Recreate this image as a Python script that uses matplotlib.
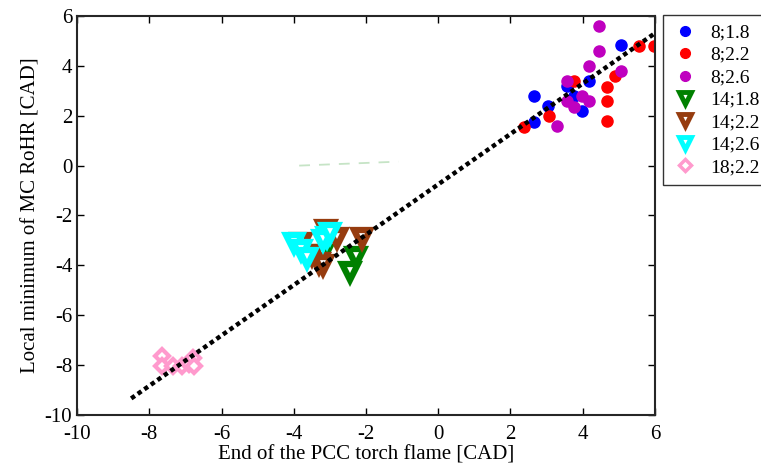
import numpy as np
import matplotlib
matplotlib.use("Agg")
import matplotlib.pyplot as plt

# --------------------------------------------
# Données : fin de flamme PCC vs minimum local RoHR
# --------------------------------------------
x_8_18 = [5.05, 2.65, 3.05, 2.65, 3.57, 4.16, 3.77, 3.99]
y_8_18 = [4.85, 2.80, 2.40, 1.76, 3.20, 3.40, 2.80, 2.20]

x_8_22 = [2.38, 3.07, 3.77, 4.68, 4.88, 4.68, 4.68, 5.57, 5.98]
y_8_22 = [1.56, 2.00, 3.40, 3.17, 3.60, 2.60, 1.80, 4.80, 4.80]

x_8_26 = [4.46, 4.46, 4.16, 5.07, 3.57, 3.99, 4.16, 3.57, 3.77, 3.30]
y_8_26 = [5.60, 4.60, 4.00, 3.80, 3.40, 2.80, 2.60, 2.60, 2.37, 1.60]

x_14_18 = [-3.22, -2.28, -2.44]
y_14_18 = [-3.60, -3.65, -4.27]

x_14_22 = [-3.80, -3.50, -3.30, -3.20, -3.10, -2.80, -2.10]
y_14_22 = [-3.10, -3.60, -3.90, -4.00, -2.60, -2.90, -2.90]

x_14_26 = [-4.00, -3.80, -3.62, -3.07, -3.20, -3.00]
y_14_26 = [-3.10, -3.40, -3.69, -2.85, -3.00, -2.70]

x_18_22 = [-7.65, -7.65, -7.35, -7.10, -6.90, -6.80, -6.75]
y_18_22 = [-7.65, -8.05, -8.05, -8.05, -7.95, -7.70, -8.05]

labels = ["8;1.8", "8;2.2", "8;2.6", "14;1.8", "14;2.2", "14;2.6", "18;2.2"]

# droite de régression
fit_slope = 1.01
fit_intercept = -0.75
fit_x = [-8.5, 6.0]

# trait vert pâle près de zéro
faint_x = [-3.85, -1.1]
faint_y = [0.0, 0.16]

# --------------------------------------------
# Figure
# --------------------------------------------
plt.rcParams["font.family"] = ["Liberation Serif", "DejaVu Serif"]
plt.rcParams["axes.unicode_minus"] = False

fig = plt.figure(figsize=(7.61, 4.70), dpi=100)
ax = fig.add_axes([0.1012, 0.117, 0.7595, 0.849])

ax.plot(faint_x, faint_y, color="#c6e4c6", lw=1.3, ls=(0, (6, 5)))

ax.plot(x_8_18, y_8_18, "o", color="#0000ff", ms=8, mec="#0000ff", label=labels[0])
ax.plot(x_8_22, y_8_22, "o", color="#ff0000", ms=8, mec="#ff0000", label=labels[1])
ax.plot(x_8_26, y_8_26, "o", color="#bf00bf", ms=8, mec="#bf00bf", label=labels[2])

tri = dict(marker="v", ls="none", mfc="white", ms=12, mew=4.5)
ax.plot(x_14_18, y_14_18, mec="#008000", label=labels[3], **tri)
ax.plot(x_14_22, y_14_22, mec="#963c0f", label=labels[4], **tri)
ax.plot(x_14_26, y_14_26, mec="#00ffff", label=labels[5], **tri)

ax.plot(x_18_22, y_18_22, marker="D", ls="none", mfc="white", mec="#ff9acd",
        ms=7.5, mew=3, label=labels[6])

fx = np.array(fit_x)
ax.plot(fx, fit_slope * fx + fit_intercept, color="black", lw=3.2,
        ls=(0, (1, 0.8)), dash_capstyle="butt")

ax.set_xlim(-10, 6)
ax.set_ylim(-10, 6)
ax.set_xticks(np.arange(-10, 7, 2))
ax.set_yticks(np.arange(-10, 7, 2))
ax.tick_params(direction="in", top=True, right=True, labelsize=15,
               length=5, width=1)
ax.tick_params(axis="x", pad=7)
for s in ax.spines.values():
    s.set_linewidth(1.5)
    s.set_color("#262626")

ax.set_xlabel("End of the PCC torch flame [CAD]", fontsize=15, labelpad=1)
ax.set_ylabel("Local minimum of MC RoHR [CAD]", fontsize=15, labelpad=3)

leg = fig.legend(loc="upper left", bbox_to_anchor=(0.871, 0.968),
                 fontsize=14, frameon=True, fancybox=False, edgecolor="black",
                 handlelength=1.4, handletextpad=0.6,
                 labelspacing=0.25, borderpad=0.45, borderaxespad=0)
leg.get_frame().set_linewidth(1.0)
# marqueurs de légende plus petits
for h in leg.legend_handles:
    if h.get_marker() == "v":
        h.set_markersize(8)
        h.set_markeredgewidth(3.5)
    elif h.get_marker() == "D":
        h.set_markersize(6)
        h.set_markeredgewidth(2.5)
    else:
        h.set_markersize(7)

fig.savefig("out.png", dpi=100)
